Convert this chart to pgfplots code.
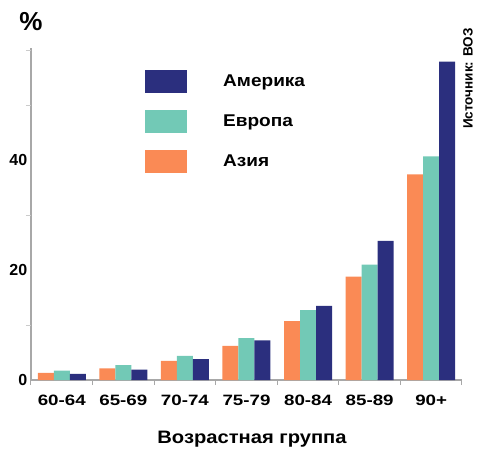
\documentclass[border=0pt]{standalone}
\usepackage{fontspec}
\setmainfont{Liberation Sans}
\newfontfamily\wideA{Liberation Sans}[FakeStretch=1.12]
\newfontfamily\wideB{Liberation Sans}[FakeStretch=1.25]
\usepackage{pgfplots}
\pgfplotsset{compat=1.18}
\definecolor{cnavy}{HTML}{2B2F7E}
\definecolor{cteal}{HTML}{72C9B6}
\definecolor{corange}{HTML}{FA8A55}
\definecolor{caxis}{HTML}{A8A8A8}
\begin{document}
\begin{tikzpicture}[x=1pt,y=1pt]
\path[use as bounding box] (0,0) rectangle (477,448);
\begin{axis}[
  at={(31pt,68pt)}, anchor=south west,
  scale only axis, width=431pt, height=332pt,
  xmin=-0.5, xmax=6.5, ymin=0, ymax=60.4,
  axis x line=bottom, axis y line=left,
  axis line style={-, draw=caxis, line width=1.2pt},
  ybar=0pt, bar width=16pt,
  xtick={0,...,6},
  xticklabels={60-64,65-69,70-74,75-79,80-84,85-89,90+},
  xtick style={draw=none},
  extra x ticks={-0.5,0.5,...,6.5},
  extra x tick labels={},
  extra x tick style={xtick style={draw=caxis, line width=1pt}, tick align=outside, major tick length=5pt},
  ytick={0,20,40},
  ytick style={draw=none},
  extra y ticks={10,30,50,60},
  extra y tick labels={},
  extra y tick style={ytick style={draw=caxis!60, line width=0.8pt}, tick align=outside, major tick length=5pt},
  /pgf/number format/assume math mode=true,
  xticklabel style={font=\fontsize{15}{15}\selectfont\wideB\bfseries, yshift=-7pt},
  yticklabel style={font=\fontsize{16}{16}\selectfont\bfseries, inner sep=1.5pt},
  legend image code/.code={\fill[#1] (0pt,-11.5pt) rectangle (42pt,11.5pt);},
  reverse legend,
  legend style={draw=none, fill=none, at={(0.2645,0.934)}, anchor=north west,
    inner sep=0pt, row sep=17pt, column sep=36pt,
    font=\fontsize{17}{17}\selectfont\wideA\bfseries,
    nodes={inner sep=0pt, anchor=west}},
  legend cell align=left,
]
\addplot[fill=corange, draw=none] coordinates {(0,1.3) (1,2.1) (2,3.5) (3,6.2) (4,10.7) (5,18.8) (6,37.4)};
\addlegendentry{Азия}
\addplot[fill=cteal, draw=none] coordinates {(0,1.7) (1,2.7) (2,4.4) (3,7.6) (4,12.7) (5,21.0) (6,40.7)};
\addlegendentry{Европа}
\addplot[fill=cnavy, draw=none] coordinates {(0,1.1) (1,1.9) (2,3.8) (3,7.2) (4,13.5) (5,25.3) (6,57.9)};
\addlegendentry{Америка}
\end{axis}
\node[font=\fontsize{26}{26}\selectfont\bfseries] at (31,426) {\%};
\node[rotate=90, font=\fontsize{13.5}{13.5}\selectfont\bfseries] at (468,369.5) {Источник: ВОЗ};
\node[font=\fontsize{18}{18}\selectfont\wideA\bfseries] at (252,8.5) {Возрастная группа};
\end{tikzpicture}
\end{document}
